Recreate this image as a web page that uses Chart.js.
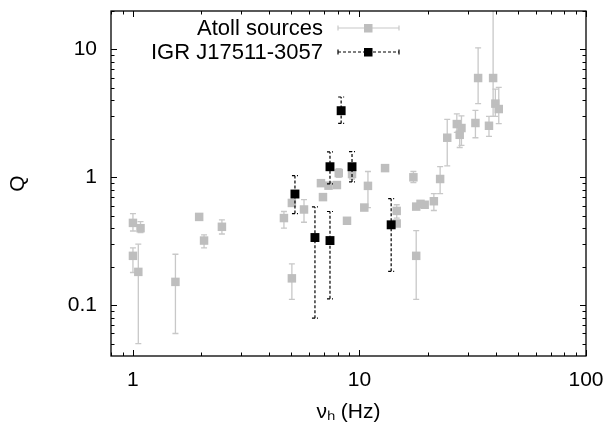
<!DOCTYPE html>
<html>
<head>
<meta charset="utf-8">
<script src="https://cdn.jsdelivr.net/npm/chart.js@4.4.0/dist/chart.umd.min.js"></script>
<style>
  html, body { margin: 0; padding: 0; background: #fff; }
  #wrap { width: 610px; height: 425px; }
</style>
</head>
<body>
<div id="wrap"><canvas id="grafico-q"></canvas></div>
<script>
// ==================== DADOS ====================
// Atoll sources (cinza)
const atollNu  = [1.00, 1.08, 1.00, 1.056, 1.54, 1.96, 2.06, 2.47, 4.64, 5.03, 5.69, 5.03,
                  6.9, 6.76, 7.3, 7.95, 8.1, 9.27, 8.81, 10.5, 10.9, 12.97, 14.6, 14.6,
                  17.3, 17.8, 18.6, 19.4, 21.3, 22.7, 17.8, 24.4, 26.9, 28.2, 27.7, 32.5,
                  33.4, 37.3, 38.9, 39.8, 41.2];
const atollQ   = [0.44, 0.40, 0.243, 0.182, 0.152, 0.49, 0.32, 0.41, 0.48, 0.63, 0.56, 0.162,
                  0.70, 0.90, 0.86, 0.87, 1.08, 1.06, 0.457, 0.58, 0.857, 1.18, 0.546, 0.435,
                  1.0, 0.59, 0.62, 0.61, 0.65, 0.97, 0.243, 2.04, 2.61, 2.43, 2.15, 2.66,
                  5.98, 2.53, 5.98, 3.77, 3.42];
const atollQLo = [0.38, 0.37, 0.18, 0.050, 0.060, 0.49, 0.28, 0.36, 0.40, 0.63, 0.445, 0.111,
                  0.70, 0.90, 0.86, 0.87, 1.0, 0.97, 0.457, 0.58, 0.58, 1.18, 0.48, 0.435,
                  0.91, 0.59, 0.62, 0.61, 0.55, 0.745, 0.111, 1.23, 2.25, 1.78, 1.71, 2.04,
                  3.77, 2.09, 3.0, 3.0, 2.63];
const atollQHi = [0.52, 0.45, 0.28, 0.30, 0.25, 0.49, 0.355, 0.465, 0.54, 0.63, 0.67, 0.21,
                  0.70, 0.90, 0.86, 0.87, 1.17, 1.17, 0.457, 0.58, 1.11, 1.18, 0.61, 0.435,
                  1.11, 0.59, 0.62, 0.61, 0.745, 1.21, 0.383, 2.84, 3.13, 3.02, 2.5, 3.34,
                  10.3, 3.0, 30, 4.9, 5.05];

// IGR J17511-3057 (preto)
const igrNu  = [5.19, 6.36, 7.41, 7.41, 8.3, 9.27, 13.8];
const igrQ   = [0.74, 0.338, 0.32, 1.21, 3.32, 1.21, 0.425];
const igrQLo = [0.52, 0.079, 0.112, 0.89, 2.64, 0.92, 0.184];
const igrQHi = [1.03, 0.587, 0.54, 1.58, 4.25, 1.59, 0.68];

const xTicks = [1, 10, 100];
const yTicks = [0.1, 1, 10];
const xMinor = [0.8, 0.9, 2, 3, 4, 5, 6, 7, 8, 9, 20, 30, 40, 50, 60, 70, 80, 90];
const yMinor = [0.05, 0.06, 0.07, 0.08, 0.09, 0.2, 0.3, 0.4, 0.5, 0.6, 0.7, 0.8, 0.9,
                2, 3, 4, 5, 6, 7, 8, 9, 20];

const legendLabels = ['Atoll sources', 'IGR J17511-3057'];

const CINZA = 'rgb(190,190,190)';
const CINZA_ERRO = 'rgb(200,200,200)';
const FONTE = '"Liberation Sans", Arial, sans-serif';

// ==================== PLUGINS ====================
const barrasErro = {
    id: 'barrasErro',
    beforeDatasetDraw(chart, args) {
        const ds = chart.data.datasets[args.index];
        if (!ds.qLo) return;
        const {ctx, chartArea, scales} = chart;
        ctx.save();
        ctx.beginPath();
        ctx.rect(chartArea.left, chartArea.top, chartArea.right - chartArea.left, chartArea.bottom - chartArea.top);
        ctx.clip();
        ctx.strokeStyle = ds.errColor;
        ctx.lineWidth = ds.errWidth;
        ctx.setLineDash(ds.errDash);
        ds.data.forEach((p, i) => {
            const x = scales.x.getPixelForValue(p.x);
            const yLo = scales.y.getPixelForValue(ds.qLo[i]);
            const yHi = scales.y.getPixelForValue(ds.qHi[i]);
            if (Math.abs(yLo - yHi) < 1) return;
            ctx.beginPath();
            ctx.moveTo(x, yLo);
            ctx.lineTo(x, yHi);
            ctx.stroke();
            ctx.beginPath();
            ctx.moveTo(x - 3, yLo); ctx.lineTo(x + 3, yLo);
            ctx.moveTo(x - 3, yHi); ctx.lineTo(x + 3, yHi);
            ctx.stroke();
        });
        ctx.restore();
    }
};

const moldura = {
    id: 'moldura',
    afterDraw(chart) {
        const {ctx, chartArea: a, scales} = chart;
        ctx.save();
        ctx.strokeStyle = '#000';
        ctx.lineWidth = 1.3;
        ctx.strokeRect(a.left, a.top, a.right - a.left, a.bottom - a.top);
        ctx.lineWidth = 1;
        const tickX = (v, len) => {
            const x = Math.round(scales.x.getPixelForValue(v)) + 0.5;
            ctx.beginPath();
            ctx.moveTo(x, a.bottom); ctx.lineTo(x, a.bottom - len);
            ctx.moveTo(x, a.top); ctx.lineTo(x, a.top + len);
            ctx.stroke();
        };
        const tickY = (v, len) => {
            const y = Math.round(scales.y.getPixelForValue(v)) + 0.5;
            ctx.beginPath();
            ctx.moveTo(a.left, y); ctx.lineTo(a.left + len, y);
            ctx.moveTo(a.right, y); ctx.lineTo(a.right - len, y);
            ctx.stroke();
        };
        xTicks.forEach(v => tickX(v, 6));
        xMinor.forEach(v => tickX(v, 3.5));
        yTicks.forEach(v => tickY(v, 6));
        yMinor.forEach(v => tickY(v, 3.5));

        // legenda estilo gnuplot
        ctx.font = '22px ' + FONTE;
        ctx.textAlign = 'right';
        ctx.textBaseline = 'middle';
        const linhas = [
            {y: 28, cor: CINZA_ERRO, marca: CINZA, dash: []},
            {y: 52, cor: '#000', marca: '#000', dash: [3, 2]}
        ];
        linhas.forEach((l, i) => {
            ctx.fillStyle = '#000';
            ctx.fillText(legendLabels[i], 323, l.y + 1);
            ctx.strokeStyle = l.cor;
            ctx.lineWidth = 1.2;
            ctx.setLineDash(l.dash);
            ctx.beginPath();
            ctx.moveTo(338, l.y); ctx.lineTo(399, l.y);
            ctx.stroke();
            ctx.setLineDash([]);
            ctx.beginPath();
            ctx.moveTo(338, l.y - 2.5); ctx.lineTo(338, l.y + 2.5);
            ctx.moveTo(399, l.y - 2.5); ctx.lineTo(399, l.y + 2.5);
            ctx.stroke();
            ctx.fillStyle = l.marca;
            ctx.fillRect(364, l.y - 4, 8.5, 8.5);
        });
        ctx.restore();
    }
};

// ==================== GRAFICO ====================
const ctx = document.getElementById('grafico-q');

new Chart(ctx, {
    type: 'scatter',
    data: {
        datasets: [
            {
                label: legendLabels[0],
                data: atollNu.map((x, i) => ({x: x, y: atollQ[i]})),
                qLo: atollQLo,
                qHi: atollQHi,
                errColor: CINZA_ERRO,
                errWidth: 1.3,
                errDash: [],
                pointStyle: 'rect',
                pointRadius: 6,
                backgroundColor: CINZA,
                borderWidth: 0,
                order: 2
            },
            {
                label: legendLabels[1],
                data: igrNu.map((x, i) => ({x: x, y: igrQ[i]})),
                qLo: igrQLo,
                qHi: igrQHi,
                errColor: '#000',
                errWidth: 1.2,
                errDash: [3, 2],
                pointStyle: 'rect',
                pointRadius: 6.3,
                backgroundColor: '#000',
                borderWidth: 0,
                order: 1
            }
        ]
    },
    options: {
        responsive: true,
        maintainAspectRatio: false,
        animation: false,
        layout: {
            padding: {top: 11, right: 24, left: 0, bottom: 0}
        },
        plugins: {
            legend: {display: false},
            tooltip: {enabled: false}
        },
        scales: {
            x: {
                type: 'logarithmic',
                min: 0.8,
                max: 100,
                afterBuildTicks: function(scale) {
                    scale.ticks = xTicks.map(v => ({value: v}));
                },
                afterFit: function(scale) {
                    scale.height = 69;
                    scale.paddingLeft = 0;
                    scale.paddingRight = 0;
                },
                grid: {display: false, drawTicks: false},
                border: {display: false},
                ticks: {
                    color: '#000',
                    padding: 12,
                    maxRotation: 0,
                    font: {family: FONTE, size: 21},
                    callback: function(value) {
                        return String(value);
                    }
                },
                title: {
                    display: true,
                    text: 'νₕ (Hz)',
                    color: '#000',
                    font: {family: FONTE, size: 21},
                    padding: {top: 0, bottom: 0}
                }
            },
            y: {
                type: 'logarithmic',
                min: 0.04,
                max: 20,
                afterBuildTicks: function(scale) {
                    scale.ticks = yTicks.map(v => ({value: v}));
                },
                afterFit: function(scale) {
                    scale.width = 111;
                    scale.paddingTop = 0;
                    scale.paddingBottom = 0;
                },
                grid: {display: false, drawTicks: false},
                border: {display: false},
                ticks: {
                    color: '#000',
                    padding: 14,
                    font: {family: FONTE, size: 21},
                    callback: function(value) {
                        return String(value);
                    }
                },
                title: {
                    display: true,
                    text: 'Q',
                    color: '#000',
                    font: {family: FONTE, size: 21},
                    padding: {top: 6, bottom: 0}
                }
            }
        }
    },
    plugins: [barrasErro, moldura]
});
</script>
</body>
</html>
